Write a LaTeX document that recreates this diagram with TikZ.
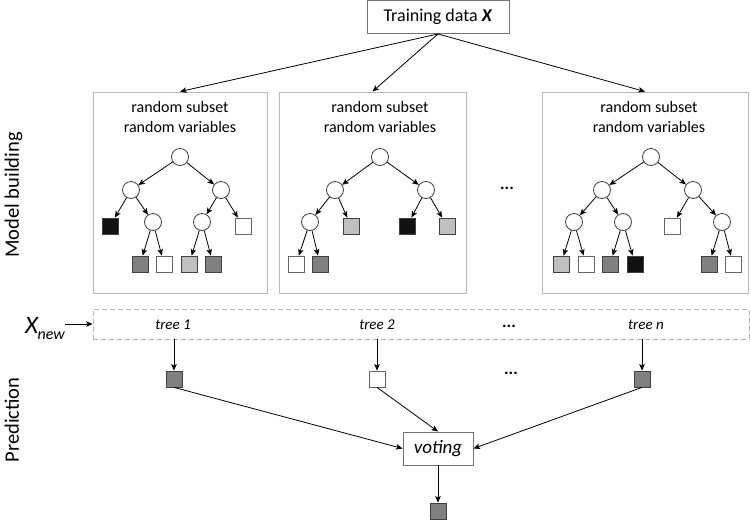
\documentclass[tikz,border=0pt]{standalone}
\usepackage{fontspec}
\setmainfont{Carlito}
\usetikzlibrary{arrows.meta,calc}
\begin{document}
\begin{tikzpicture}[x=1pt,y=-1pt,
  arr/.style={-{Stealth[length=6.5pt,width=5.5pt,inset=1.5pt]}, line width=0.8pt, black},
  inner/.style={circle, draw=black!75, line width=0.8pt, fill=white, minimum size=17pt, inner sep=0pt},
  leaf/.style={rectangle, draw=black!75, line width=0.8pt, minimum size=16pt, inner sep=0pt},
  lw/.style={leaf, fill=white, draw=black!60},
  ll/.style={leaf, fill=black!25},
  ld/.style={leaf, fill=black!50},
  lb/.style={leaf, fill=black!93},
  panel/.style={draw=black!28, line width=0.9pt, inner sep=0pt, minimum height=201pt},
  head/.style={font=\fontsize{16}{20}\selectfont, align=center},
  mainbox/.style={draw=black!55, line width=0.9pt, minimum height=33pt, inner sep=2pt},
  treelab/.style={font=\fontsize{15}{18}\selectfont\itshape},
  side/.style={rotate=90, anchor=base, font=\fontsize{20.5}{24}\selectfont},
  dots/.style={font=\fontsize{17}{18}\selectfont\bfseries}
]
\useasboundingbox (0,0) rectangle (750,520);

% training data
\node[mainbox, minimum width=142pt, font=\fontsize{18}{22}\selectfont] (T) at (438,17) {Training data \textbf{\textit{X}}};

% panels
\node[panel, minimum width=174pt] (B1) at (180,192.5) {};
\node[panel, minimum width=187pt] (B2) at (372.5,192.5) {};
\node[panel, minimum width=206pt] (B3) at (645,192.5) {};
\node[head] (h1) at (180,117) {random subset\\random variables};
\node[head] (h2) at (380,117) {random subset\\random variables};
\node[head] (h3) at (649,117) {random subset\\random variables};
\node[dots] (md) at (507,188) {...};

\draw[arr] (T.south) -- (B1.north);
\draw[arr] (T.south) -- (B2.north);
\draw[arr] (T.south) -- (B3.north);

% tree 1
\node[inner] (r1) at (180,157) {};
\node[inner] (a1) at (131,190) {};
\node[inner] (b1) at (221,190) {};
\node[lb] (s11) at (110,226) {};
\node[inner] (c11) at (153,222) {};
\node[inner] (c12) at (202,222) {};
\node[lw] (s12) at (243,226) {};
\node[ld] (s13) at (140,264) {};
\node[lw] (s14) at (164,264) {};
\node[ll] (s15) at (189,264) {};
\node[ld] (s16) at (213,264) {};
\draw[arr] (r1) -- (a1);
\draw[arr] (r1) -- (b1);
\draw[arr] (a1) -- (s11);
\draw[arr] (a1) -- (c11);
\draw[arr] (b1) -- (c12);
\draw[arr] (b1) -- (s12);
\draw[arr] (c11) -- (s13);
\draw[arr] (c11) -- (s14);
\draw[arr] (c12) -- (s15);
\draw[arr] (c12) -- (s16);

% tree 2
\node[inner] (r2) at (380,157) {};
\node[inner] (a2) at (335,190) {};
\node[inner] (b2) at (426,190) {};
\node[inner] (c21) at (310,222) {};
\node[ll] (s21) at (351,226) {};
\node[lb] (s22) at (407,226) {};
\node[ll] (s23) at (447,226) {};
\node[lw] (s24) at (296,264) {};
\node[ld] (s25) at (320,264) {};
\draw[arr] (r2) -- (a2);
\draw[arr] (r2) -- (b2);
\draw[arr] (a2) -- (c21);
\draw[arr] (a2) -- (s21);
\draw[arr] (b2) -- (s22);
\draw[arr] (b2) -- (s23);
\draw[arr] (c21) -- (s24);
\draw[arr] (c21) -- (s25);

% tree 3
\node[inner] (r3) at (651,157) {};
\node[inner] (a3) at (602,190) {};
\node[inner] (b3) at (693,190) {};
\node[inner] (c31) at (574,222) {};
\node[inner] (c32) at (623,222) {};
\node[lw] (s31) at (672,226) {};
\node[inner] (c33) at (722,222) {};
\node[ll] (s32) at (561,264) {};
\node[lw] (s33) at (586,264) {};
\node[ld] (s34) at (610,264) {};
\node[lb] (s35) at (635,264) {};
\node[ld] (s36) at (709,264) {};
\node[lw] (s37) at (733,264) {};
\draw[arr] (r3) -- (a3);
\draw[arr] (r3) -- (b3);
\draw[arr] (a3) -- (c31);
\draw[arr] (a3) -- (c32);
\draw[arr] (b3) -- (s31);
\draw[arr] (b3) -- (c33);
\draw[arr] (c31) -- (s32);
\draw[arr] (c31) -- (s33);
\draw[arr] (c32) -- (s34);
\draw[arr] (c32) -- (s35);
\draw[arr] (c33) -- (s36);
\draw[arr] (c33) -- (s37);

% prediction row
\node[draw=black!30, line width=0.8pt, dash pattern=on 5pt off 3pt, minimum width=656pt, minimum height=30pt, inner sep=0pt] (D) at (421,324) {};
\node[treelab] (t1) at (173,325) {tree 1};
\node[treelab] (t2) at (377,325) {tree 2};
\node[treelab] (tn) at (646,325) {tree n};
\node[dots] (dd) at (509,326) {...};
\node[anchor=base east, font=\fontsize{25}{28}\selectfont\itshape, inner sep=0pt] (Xn) at (65,333) {X\kern-0.5pt\raisebox{-6pt}{\fontsize{16}{18}\selectfont new}};
\draw[arr] (Xn.east |- D.west) -- (D.west);

\node[ld] (P1) at (174,379) {};
\node[lw] (P2) at (377,379) {};
\node[ld] (P3) at (642,379) {};
\node[dots] (pd) at (511,373) {...};
\draw[arr] (D.south -| P1) -- (P1);
\draw[arr] (D.south -| P2) -- (P2);
\draw[arr] (D.south -| P3) -- (P3);

\node[mainbox, minimum width=70pt, font=\fontsize{19}{22}\selectfont\itshape] (V) at (438,448.5) {voting};
\draw[arr] (P1.south) -- (V.west);
\draw[arr] (P2.south) -- (V.north);
\draw[arr] (P3.south) -- (V.east);
\node[ld] (O) at (438,511) {};
\draw[arr] (V.south) -- (O);

% side labels
\node[side] (MB) at (19,195) {Model building};
\node[side] (PR) at (19,420) {Prediction};
\end{tikzpicture}
\end{document}
